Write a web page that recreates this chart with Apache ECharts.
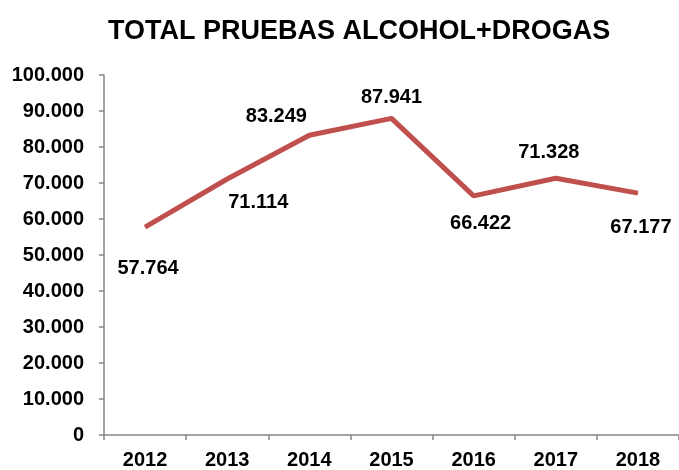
<!DOCTYPE html>
<html>
<head>
<meta charset="utf-8" />
<title>TOTAL PRUEBAS ALCOHOL+DROGAS</title>
<script src="https://cdn.jsdelivr.net/npm/echarts@6/dist/echarts.min.js"></script>
<style>
  html, body { margin: 0; padding: 0; background: #fff; }
  #main { width: 679px; height: 470px; }
</style>
</head>
<body>
<div id="main"></div>
<script type="text/javascript">
    // datos
    var years = ['2012', '2013', '2014', '2015', '2016', '2017', '2018'];
    var pruebas = [57764, 71114, 83249, 87941, 66422, 71328, 67177];
    var yTicks = [0, 10000, 20000, 30000, 40000, 50000, 60000, 70000, 80000, 90000, 100000];

    // desplazamiento de cada etiqueta respecto a su punto (px)
    var labelOffsets = [[3, 41], [31, 23], [-33, -19], [0, -21], [7, 28], [-7, -26], [3, 34]];

    function fmt(v) {
        if (v === 0) return '0';
        var s = String(Math.round(v));
        return s.replace(/\B(?=(\d{3})+(?!\d))/g, '.');
    }

    var font = "'Liberation Sans', Arial, Helvetica, sans-serif";
    var myChart = echarts.init(document.getElementById('main'));

    var seriesData = pruebas.map(function (v, i) {
        return {
            value: v,
            label: { offset: labelOffsets[i] }
        };
    });

    var option = {
        animation: false,
        title: {
            text: 'TOTAL PRUEBAS ALCOHOL+DROGAS',
            left: 103,
            top: 13,
            textStyle: { fontFamily: font, fontSize: 27, fontWeight: 'bold', color: '#000' }
        },
        grid: { left: 104, top: 75, width: 581, height: 363 },
        xAxis: {
            type: 'category',
            data: years,
            boundaryGap: true,
            axisLine: { lineStyle: { color: '#868686', width: 1.5 } },
            axisTick: { show: true, length: 5, alignWithLabel: false, lineStyle: { color: '#868686', width: 1.5 } },
            axisLabel: { margin: 15, fontFamily: font, fontSize: 20, fontWeight: 'bold', color: '#000' }
        },
        yAxis: {
            type: 'value',
            min: yTicks[0],
            max: yTicks[yTicks.length - 1],
            interval: yTicks[1] - yTicks[0],
            splitLine: { show: false },
            axisLine: { show: true, lineStyle: { color: '#868686', width: 1.5 } },
            axisTick: { show: true, length: 5, lineStyle: { color: '#868686', width: 1.5 } },
            axisLabel: {
                margin: 20, fontFamily: font, fontSize: 20, fontWeight: 'bold', color: '#000',
                formatter: fmt
            }
        },
        series: [{
            name: 'Total pruebas',
            type: 'line',
            data: seriesData,
            symbol: 'circle',
            symbolSize: 1,
            showSymbol: true,
            itemStyle: { color: '#C0504D' },
            lineStyle: { color: '#C0504D', width: 5 },
            label: {
                show: true,
                position: 'inside',
                fontFamily: font,
                fontSize: 20,
                fontWeight: 'bold',
                color: '#000',
                formatter: function (p) { return fmt(p.value); }
            }
        }]
    };

    myChart.setOption(option);
</script>
</body>
</html>
